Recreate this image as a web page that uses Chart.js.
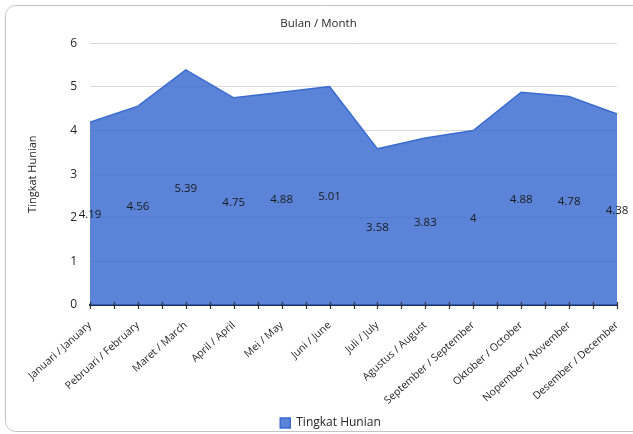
<!DOCTYPE html>
<html>
<head>
<meta charset="utf-8">
<script src="https://cdn.jsdelivr.net/npm/chart.js@4/dist/chart.umd.min.js"></script>
<style>
  body { margin: 0; background: #fff; overflow: hidden; }
  canvas { display: block; }
</style>
</head>
<body>
<canvas id="chart" width="633" height="434"></canvas>
<script>
// data
const months = [
  "Januari / January", "Pebruari / February", "Maret / March", "April / April",
  "Mei / May", "Juni / June", "Juli / July", "Agustus / August",
  "September / September", "Oktober / October", "Nopember / November", "Desember / December"
];
const occupancy = [4.19, 4.56, 5.39, 4.75, 4.88, 5.01, 3.58, 3.83, 4, 4.88, 4.78, 4.38];
const yMin = 0;
const yMax = 6;

const FONT = "'Open Sans', 'Liberation Sans', sans-serif";

// rounded chart frame, right side runs off the picture
const frame = {
  id: "frame",
  beforeDraw(chart) {
    const ctx = chart.ctx;
    ctx.save();
    ctx.strokeStyle = "#c4c4c4";
    ctx.lineWidth = 1;
    ctx.beginPath();
    ctx.roundRect(5.5, 5.5, 700, 426, 10);
    ctx.stroke();
    ctx.restore();
  },
  // legend sits a bit right of centre and low in the original
  afterLayout(chart) {
    chart.legend.left += 12;
    chart.legend.right += 12;
    chart.legend.top += 5;
    chart.legend.bottom += 5;
  }
};

// values written halfway down the area, like the excel export
const centerLabels = {
  id: "centerLabels",
  afterDatasetsDraw(chart) {
    const ctx = chart.ctx;
    const meta = chart.getDatasetMeta(0);
    const y = chart.scales.y;
    ctx.save();
    ctx.font = "11.5px " + FONT;
    ctx.fillStyle = "#1a1a1a";
    ctx.textAlign = "center";
    ctx.textBaseline = "middle";
    meta.data.forEach((pt, i) => {
      const v = occupancy[i];
      ctx.fillText(String(v), pt.x, y.getPixelForValue(v / 2) + 1);
    });
    ctx.restore();
  }
};

// major + minor tick marks on the category axis
const axisTicks = {
  id: "axisTicks",
  afterDraw(chart) {
    const ctx = chart.ctx;
    const x = chart.scales.x;
    const bottom = chart.chartArea.bottom;
    ctx.save();
    ctx.strokeStyle = "#333";
    ctx.lineWidth = 1.2;
    ctx.beginPath();
    for (let i = 0; i <= months.length - 1; i += 0.5) {
      const px = Math.round(x.getPixelForValue(i)) + 0.5;
      ctx.moveTo(px, bottom - 3);
      ctx.lineTo(px, bottom + 4);
    }
    ctx.stroke();
    ctx.restore();
  }
};

new Chart(document.getElementById("chart"), {
  type: "line",
  data: {
    labels: months,
    datasets: [{
      label: "Tingkat Hunian",
      data: occupancy,
      fill: "origin",
      backgroundColor: "rgba(55,105,208,0.82)",
      borderColor: "#3a6bd1",
      borderWidth: 1.5,
      pointRadius: 0,
      tension: 0
    }]
  },
  options: {
    responsive: false,
    animation: false,
    layout: { padding: { left: 20, right: 16, top: 0, bottom: 0 } },
    plugins: {
      title: {
        display: true,
        text: "Bulan / Month",
        color: "#262626",
        font: { family: FONT, size: 11.5, weight: "normal" },
        padding: { top: 17, bottom: 12.5 }
      },
      legend: {
        position: "bottom",
        labels: {
          boxWidth: 10,
          boxHeight: 10,
          padding: 3,
          color: "#262626",
          font: { family: FONT, size: 12 }
        }
      },
      tooltip: { enabled: false }
    },
    scales: {
      x: {
        offset: false,
        grid: { display: false },
        border: { display: true, color: "#1f2d4d", width: 2 },
        ticks: {
          autoSkip: false,
          minRotation: 42,
          maxRotation: 42,
          padding: 6,
          color: "#262626",
          font: { family: FONT, size: 10.5 }
        },
        afterFit(scale) { scale.height = 104; }
      },
      y: {
        min: yMin,
        max: yMax,
        grid: { color: "#d9d9d9", drawTicks: false },
        border: { display: false },
        ticks: {
          stepSize: 1,
          padding: 13,
          color: "#262626",
          font: { family: FONT, size: 12 }
        },
        title: {
          display: true,
          text: "Tingkat Hunian",
          color: "#262626",
          font: { family: FONT, size: 11 },
          padding: { top: 6, bottom: 0 }
        },
        afterFit(scale) { scale.width = 70; }
      }
    }
  },
  plugins: [frame, centerLabels, axisTicks]
});
</script>
</body>
</html>
